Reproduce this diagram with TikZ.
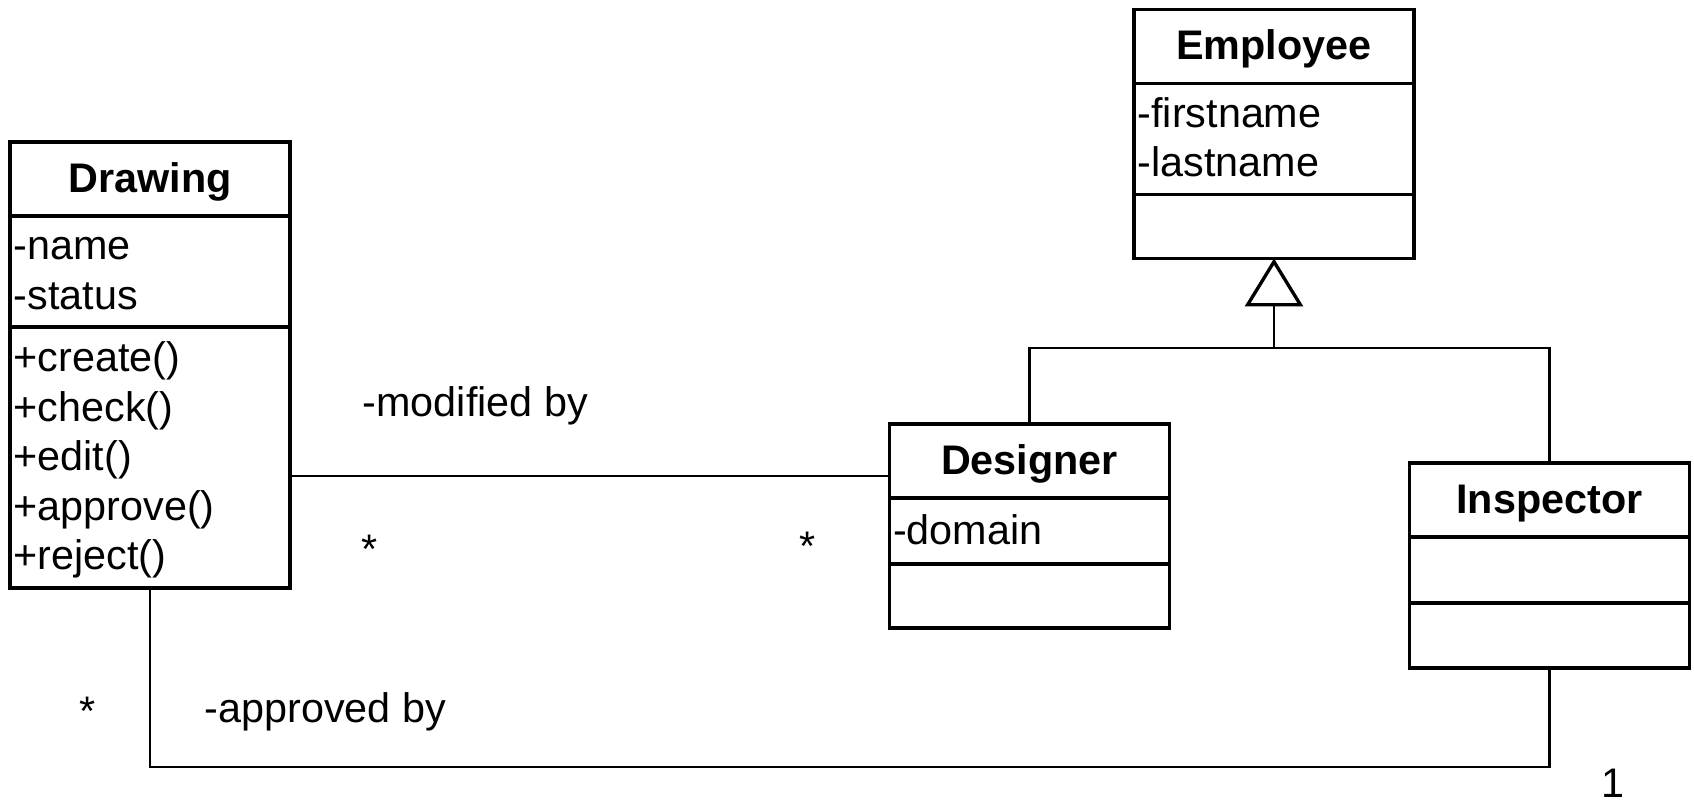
\documentclass[tikz,border=0pt]{standalone}
\usepackage{fontspec}
\setmainfont{Liberation Sans}
\usetikzlibrary{positioning,arrows.meta}

\tikzset{
  classpart/.style={draw, line width=1pt, outer sep=0pt, inner xsep=1.1pt, inner ysep=0pt,
    minimum width=84pt, text width=81.8pt,
    execute at begin node={\rule{0pt}{12.4pt}}, execute at end node=\strut},
  classname/.style={classpart, align=center, minimum height=22.2pt,
    font=\fontsize{12.4pt}{14.85pt}\selectfont\bfseries},
  classbody/.style={classpart, align=left,
    font=\fontsize{12.4pt}{14.85pt}\selectfont},
  assoc/.style={line width=0.7pt},
  roletext/.style={inner sep=0pt, font=\fontsize{12.4pt}{14.85pt}\selectfont},
  mult/.style={roletext, anchor=base}
}

\begin{document}
\begin{tikzpicture}[x=0.3pt,y=-0.3pt]
  \useasboundingbox (0,0) rectangle (1694,803);

  \node[classname, anchor=north] (drw-name) at (150,142) {Drawing};
  \node[classbody, below=0pt of drw-name, minimum height=33.3pt] (drw-attr) {-name\\-status};
  \node[classbody, below=0pt of drw-attr, minimum height=78.3pt] (drw-meth)
    {+create()\\+check()\\+edit()\\+approve()\\+reject()};

  \node[classname, anchor=north] (emp-name) at (1274,9.5) {Employee};
  \node[classbody, below=0pt of emp-name, minimum height=33.3pt] (emp-attr) {-firstname\\-lastname};
  \node[classbody, below=0pt of emp-attr, minimum height=19.2pt] (emp-meth) {};

  \node[classname, anchor=north] (des-name) at (1029.5,424) {Designer};
  \node[classbody, below=0pt of des-name, minimum height=19.8pt] (des-attr) {-domain};
  \node[classbody, below=0pt of des-attr, minimum height=19.2pt] (des-meth) {};

  \node[classname, anchor=north] (ins-name) at (1549.5,463) {Inspector};
  \node[classbody, below=0pt of ins-name, minimum height=19.8pt] (ins-attr) {};
  \node[classbody, below=0pt of ins-attr, minimum height=19.5pt] (ins-meth) {};

  \coordinate (fork) at (1274,348);
  \coordinate (modline) at (0,476);
  \draw[assoc] (des-name.north) |- (fork) -| (ins-name.north);
  \draw[assoc, -{Triangle[open, length=14.4pt, width=17.4pt, line width=1pt]}] (fork) -- (emp-meth.south);

  \draw[assoc] (drw-meth.east |- modline) -- (des-name.west |- modline);
  \draw[assoc] (drw-meth.south) -- ++(0,179) -| (ins-meth.south);

  \node[roletext, anchor=base west] (mod-lbl) at (362,417) {-modified by};
  \node[roletext, anchor=base west] (appr-lbl) at (204,723) {-approved by};
  \foreach \x/\y/\n/\t in {370/564/drw1/*, 808/561/des/*, 88/726/drw2/*, 1613/798/ins/1}
    \node[mult] (m-\n) at (\x,\y) {\t};
\end{tikzpicture}
\end{document}
